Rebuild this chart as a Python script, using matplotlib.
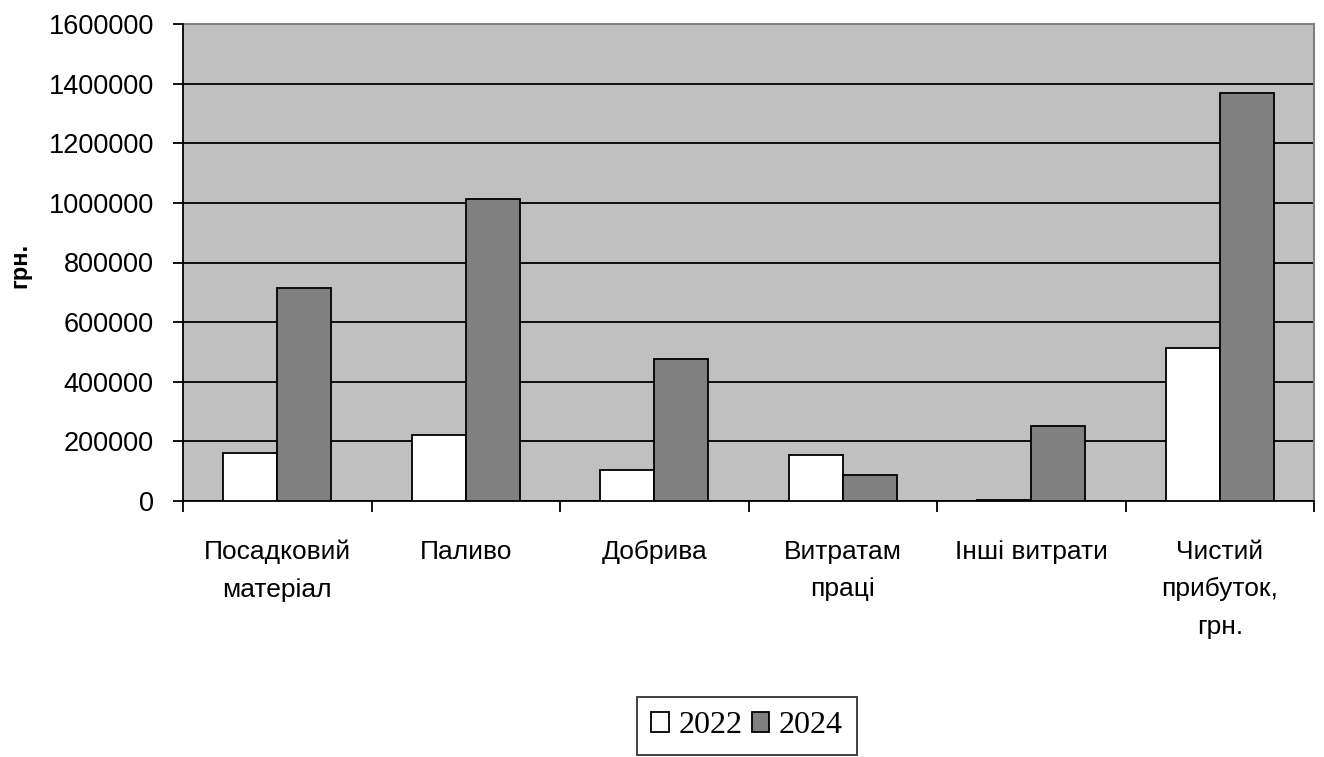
import matplotlib.pyplot as plt
import numpy as np
from matplotlib.ticker import FuncFormatter

# categories and values
categories = ['Посадковий\nматеріал', 'Паливо', 'Добрива', 'Витратам\nпраці',
              'Інші витрати', 'Чистий\nприбуток,\nгрн.']
values_2022 = [161000, 221000, 104000, 154000, 5000, 513000]
values_2024 = [714000, 1013000, 476000, 87000, 252000, 1369000]
years = ['2022', '2024']

fig = plt.figure(figsize=(13.24, 7.57), dpi=100)
ax = fig.add_axes([183 / 1324, 1 - 501 / 757, (1314 - 183) / 1324, (501 - 24) / 757])

x = np.arange(len(categories))
w = 0.286
ax.bar(x - w / 2, values_2022, w, color='white', edgecolor='black', linewidth=1.3,
       label=years[0], zorder=3)
ax.bar(x + w / 2, values_2024, w, color='#808080', edgecolor='black', linewidth=1.3,
       label=years[1], zorder=3)

ax.set_facecolor('#c0c0c0')
ax.set_xlim(-0.5, len(categories) - 0.5)
ax.set_ylim(0, 1600000)
ax.set_yticks(np.arange(0, 1600001, 200000))
ax.yaxis.set_major_formatter(FuncFormatter(lambda v, p: f'{int(v)}'))
ax.yaxis.grid(True, color='black', linewidth=1.3, zorder=1)
ax.set_axisbelow(True)

# boundary ticks on x, labels at category centres
ax.set_xticks(np.arange(-0.5, len(categories)), labels=[''] * (len(categories) + 1))
ax.set_xticks(x, labels=categories, minor=True)
ax.tick_params(axis='x', which='major', direction='out', length=8, width=1.3)
ax.tick_params(axis='x', which='minor', length=0, pad=28)
ax.tick_params(axis='y', direction='out', length=7, width=1.3, pad=14)
for lbl in ax.get_xticklabels(minor=True):
    lbl.set_fontfamily('Liberation Sans')
    lbl.set_fontsize(19)
    lbl.set_linespacing(1.7)
    lbl.set_verticalalignment('top')
for lbl in ax.get_yticklabels():
    lbl.set_fontfamily('Liberation Sans')
    lbl.set_fontsize(19.5)

for s in ['top', 'right']:
    ax.spines[s].set_color('#808080')
    ax.spines[s].set_linewidth(1.5)
ax.spines['left'].set_linewidth(1.3)
ax.spines['bottom'].set_linewidth(1.3)
ax.spines['left'].set_zorder(4)

fig.text(20 / 1324, 1 - 265 / 757, 'грн.', rotation=90, ha='center', va='center',
         fontsize=17, fontweight='bold', family='Liberation Sans')

leg = fig.legend(loc='upper center', bbox_to_anchor=(747 / 1324, 1 - 697 / 757), ncol=2,
                 frameon=True, fancybox=False, edgecolor='black',
                 prop={'family': 'Liberation Serif', 'size': 23},
                 handlelength=0.55, handleheight=0.55, handletextpad=0.3,
                 columnspacing=0.3, borderpad=0.45, borderaxespad=0)
leg.get_frame().set_linewidth(1.3)

fig.savefig('out.png', dpi=100)
